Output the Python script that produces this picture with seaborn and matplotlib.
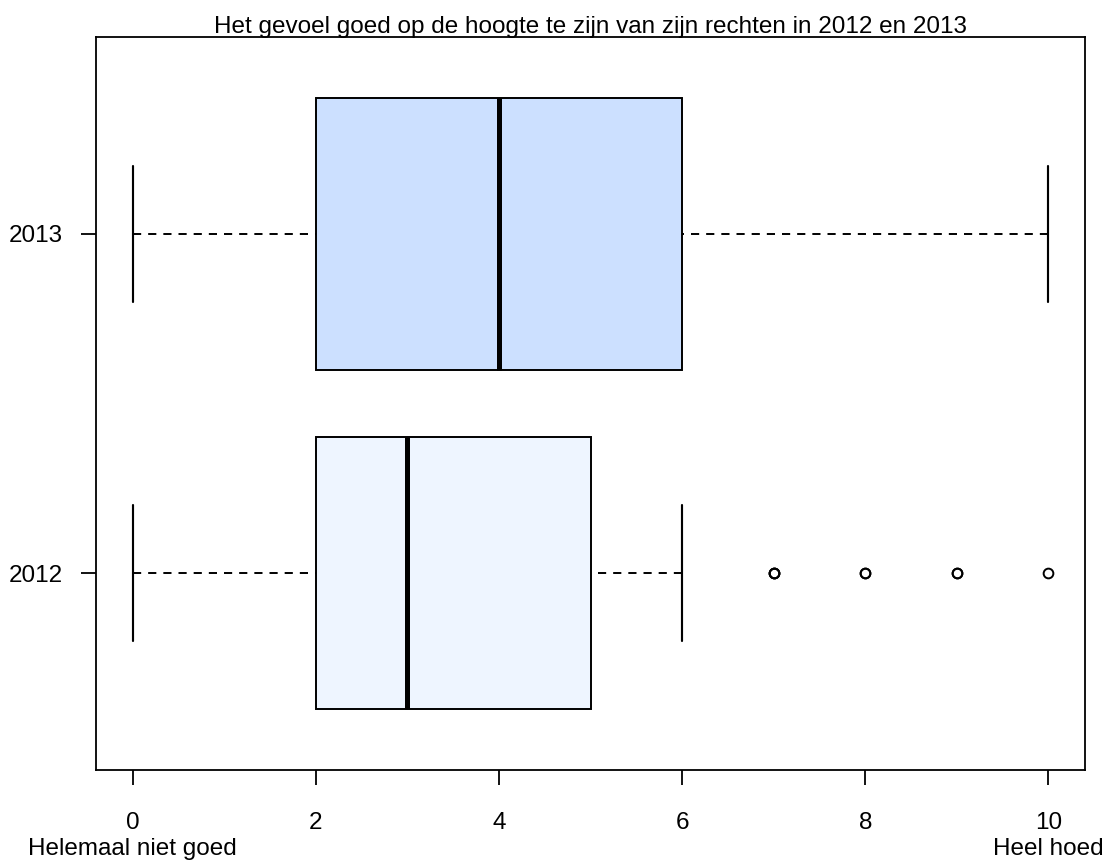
import numpy as np
import pandas as pd
import matplotlib
matplotlib.use("Agg")
import matplotlib.pyplot as plt
import seaborn as sns

# Answer scale 0..10 and number of respondents per score
scores = list(range(11))
counts_2013 = [10, 8, 12, 10, 14, 12, 10, 8, 6, 4, 6]
counts_2012 = [8, 10, 17, 20, 16, 12, 9, 3, 2, 2, 1]
years = ["2013", "2012"]
box_colors = {"2013": "#CCE0FF", "2012": "#EEF5FF"}
# upper whisker reach per year (percentile limits)
whisker_limits = {"2013": (0, 100), "2012": (0, 89)}

title = "Het gevoel goed op de hoogte te zijn van zijn rechten in 2012 en 2013"
x_ticks = [0, 2, 4, 6, 8, 10]
low_label = "Helemaal niet goed"
high_label = "Heel hoed"

frames = []
for year, counts in (("2013", counts_2013), ("2012", counts_2012)):
    frames.append(pd.DataFrame({"score": np.repeat(scores, counts), "year": year}))
df = pd.concat(frames, ignore_index=True)

sns.set_style("white")
plt.rcParams["font.family"] = ["Liberation Sans", "DejaVu Sans"]
plt.rcParams["text.color"] = "black"
FS = 17.5

W, H = 1108, 863
fig = plt.figure(figsize=(W / 100, H / 100), dpi=100)
left, right, top, bottom = 96, 1085, 37, 770
ax = fig.add_axes([left / W, 1 - bottom / H, (right - left) / W, (bottom - top) / H])

lw = 1.4
dash = (0, (4.2, 3.6))
for year in years:
    sns.boxplot(
        data=df[df["year"] == year], x="score", y="year", order=years,
        color=box_colors[year], saturation=1, width=0.8, whis=whisker_limits[year],
        linecolor="black", linewidth=lw, ax=ax,
        capwidths=0.4,
        boxprops=dict(edgecolor="black", linewidth=lw),
        medianprops=dict(color="black", linewidth=3.6, solid_capstyle="butt"),
        whiskerprops=dict(color="black", linewidth=lw, linestyle=dash),
        capprops=dict(color="black", linewidth=lw * 1.1),
        flierprops=dict(marker="o", markersize=7, markerfacecolor="none",
                        markeredgecolor="black", markeredgewidth=1.4),
    )

# start the dash pattern of each whisker at its cap
for ln in ax.lines:
    if ln.get_linestyle() == "--":
        xs, ys = ln.get_data()
        ln.set_data(xs[::-1], ys[::-1])

ax.set_xlim(-0.4, 10.4)
ax.set_ylim(1.58, -0.58)
ax.set_xlabel("")
ax.set_ylabel("")
ax.set_xticks(x_ticks)
ax.set_xticklabels([str(t) for t in x_ticks])
for s in ax.spines.values():
    s.set_visible(True)
    s.set_color("black")
    s.set_linewidth(1.3)
ax.tick_params(axis="x", direction="out", length=11, width=1.3, color="black",
               pad=19, labelsize=FS, labelcolor="black", bottom=True)
ax.tick_params(axis="y", direction="out", length=11, width=1.3, color="black",
               pad=13, labelsize=FS, labelcolor="black", left=True)

# Scale end descriptions under the tick labels
ax.text(0, -0.116, low_label, transform=ax.get_xaxis_transform(), ha="center",
        va="baseline", fontsize=FS)
ax.text(10, -0.116, high_label, transform=ax.get_xaxis_transform(), ha="center",
        va="baseline", fontsize=FS)

fig.text((left + right) / 2 / W, 1 - 33 / H, title, ha="center", va="baseline",
         fontsize=FS)

fig.savefig("out.png", dpi=100, facecolor="white")
